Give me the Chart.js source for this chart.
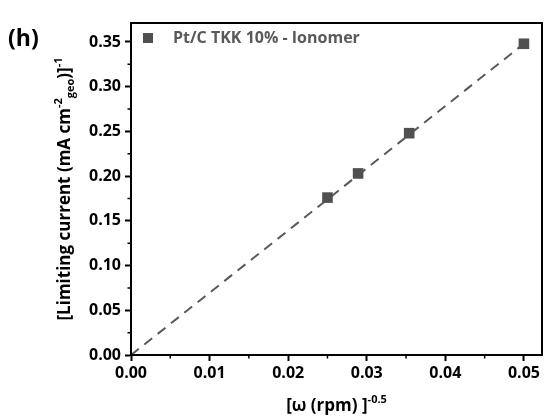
<!DOCTYPE html>
<html>
<head>
<meta charset="utf-8">
<script src="https://cdn.jsdelivr.net/npm/chart.js@4"></script>
<style>
  html, body { margin: 0; padding: 0; background: #fff; }
  #wrap { width: 544px; height: 419px; }
</style>
</head>
<body>
<div id="wrap"><canvas id="myChart" width="544" height="419"></canvas></div>
<script>
  // measured points (x = rotation rate^-0.5, y = inverse limiting current)
  const omegaInv = [0.025, 0.0289, 0.0354, 0.05];
  const invCurrent = [0.176, 0.203, 0.248, 0.348];
  // linear fit through the origin
  const fitX = [0, 0.05];
  const fitY = [0, 0.348];

  const xTicks = [0, 0.01, 0.02, 0.03, 0.04, 0.05];
  const yTicks = [0, 0.05, 0.10, 0.15, 0.20, 0.25, 0.30, 0.35];

  const seriesLabel = 'Pt/C TKK 10% - Ionomer';
  const FONT = "'Open Sans', sans-serif";

  const frame = {
    id: 'frame',
    afterDraw(chart) {
      const ctx = chart.ctx;
      const a = chart.chartArea;
      const xs = chart.scales.x, ys = chart.scales.y;
      ctx.save();
      ctx.strokeStyle = '#000';
      ctx.lineWidth = 2;
      ctx.strokeRect(a.left, a.top, a.right - a.left, a.bottom - a.top);
      // minor ticks
      ctx.lineWidth = 1.5;
      ctx.beginPath();
      for (let i = 0; i < xTicks.length; i++) {
        const v = xTicks[i] + 0.005;
        const px = xs.getPixelForValue(v);
        if (px > a.right) continue;
        ctx.moveTo(px, a.bottom); ctx.lineTo(px, a.bottom + 3.5);
      }
      for (let i = 0; i < yTicks.length; i++) {
        const v = yTicks[i] + 0.025;
        const py = ys.getPixelForValue(v);
        if (py < a.top) continue;
        ctx.moveTo(a.left, py); ctx.lineTo(a.left - 3.5, py);
      }
      ctx.stroke();

      // legend
      const ly = a.top + 15;
      ctx.fillStyle = '#505050';
      ctx.fillRect(a.left + 12, ly - 5, 10, 10);
      ctx.fillStyle = '#595959';
      ctx.font = 'bold 16px ' + FONT;
      ctx.textBaseline = 'middle';
      ctx.textAlign = 'left';
      ctx.fillText(seriesLabel, a.left + 42, ly);

      // panel letter
      ctx.fillStyle = '#000';
      ctx.font = 'bold 23px ' + FONT;
      ctx.fillText('(h)', 8, 39);

      // axis titles with super/subscripts
      const big = 'bold 17px ' + FONT, small = 'bold 11px ' + FONT;
      function runs(parts) {
        let w = 0;
        parts.forEach(p => { ctx.font = p[1] ? small : big; p.w = ctx.measureText(p[0]).width; w += p.w; });
        return w;
      }
      function drawRuns(parts, x0, y0) {
        let x = x0;
        parts.forEach(p => {
          ctx.font = p[1] ? small : big;
          const dy = p[1] === 'sup' ? -8 : (p[1] === 'sub' ? 4 : 0);
          ctx.fillText(p[0], x, y0 + dy);
          x += p.w;
        });
      }
      ctx.textBaseline = 'alphabetic';
      const xt = [['[\u03c9 (rpm) ]', null], ['-0.5', 'sup']];
      const xw = runs(xt);
      drawRuns(xt, (a.left + a.right) / 2 - xw / 2, 411);

      const yt = [['[Limiting current (mA cm', null], ['-2', 'sup'], ['geo', 'sub'], [')]', null], ['-1', 'sup']];
      const yw = runs(yt);
      ctx.save();
      ctx.translate(70, (a.top + a.bottom) / 2);
      ctx.rotate(-Math.PI / 2);
      drawRuns(yt, -yw / 2, 0);
      ctx.restore();
      ctx.restore();
    }
  };

  const data = {
    datasets: [{
      label: seriesLabel,
      type: 'scatter',
      data: omegaInv.map((x, i) => ({ x: x, y: invCurrent[i] })),
      pointStyle: 'rect',
      pointRadius: 7.5,
      backgroundColor: '#505050',
      borderColor: '#505050',
      borderWidth: 0,
      order: 0
    }, {
      label: 'fit',
      type: 'line',
      data: fitX.map((x, i) => ({ x: x, y: fitY[i] })),
      borderColor: '#595959',
      borderWidth: 2,
      borderDash: [10, 7],
      pointRadius: 0,
      fill: false,
      order: 1
    }]
  };

  const config = {
    type: 'scatter',
    data: data,
    plugins: [frame],
    options: {
      responsive: false,
      animation: false,
      layout: { autoPadding: false, padding: { top: 23, right: 2, left: 0, bottom: 0 } },
      plugins: { legend: { display: false }, tooltip: { enabled: false } },
      scales: {
        x: {
          type: 'linear',
          min: 0,
          max: 0.0523,
          afterBuildTicks: s => { s.ticks = xTicks.map(v => ({ value: v })); },
          afterFit: s => { s.height = 64; s.paddingLeft = 0; s.paddingRight = 0; },
          border: { color: '#000', width: 2 },
          grid: { drawOnChartArea: false, drawTicks: true, tickLength: 6, tickWidth: 2, tickColor: '#000' },
          ticks: {
            color: '#000',
            padding: 3,
            font: { family: FONT, weight: 'bold', size: 16 },
            callback: v => v.toFixed(2)
          }
        },
        y: {
          type: 'linear',
          min: 0,
          max: 0.3712,
          afterBuildTicks: s => { s.ticks = yTicks.map(v => ({ value: v })); },
          afterFit: s => { s.width = 131; s.paddingTop = 0; s.paddingBottom = 0; },
          border: { color: '#000', width: 2 },
          grid: { drawOnChartArea: false, drawTicks: true, tickLength: 6, tickWidth: 2, tickColor: '#000' },
          ticks: {
            color: '#000',
            padding: 4,
            font: { family: FONT, weight: 'bold', size: 16 },
            callback: v => v.toFixed(2)
          }
        }
      }
    }
  };

  const myChart = new Chart(document.getElementById('myChart'), config);
</script>
</body>
</html>
